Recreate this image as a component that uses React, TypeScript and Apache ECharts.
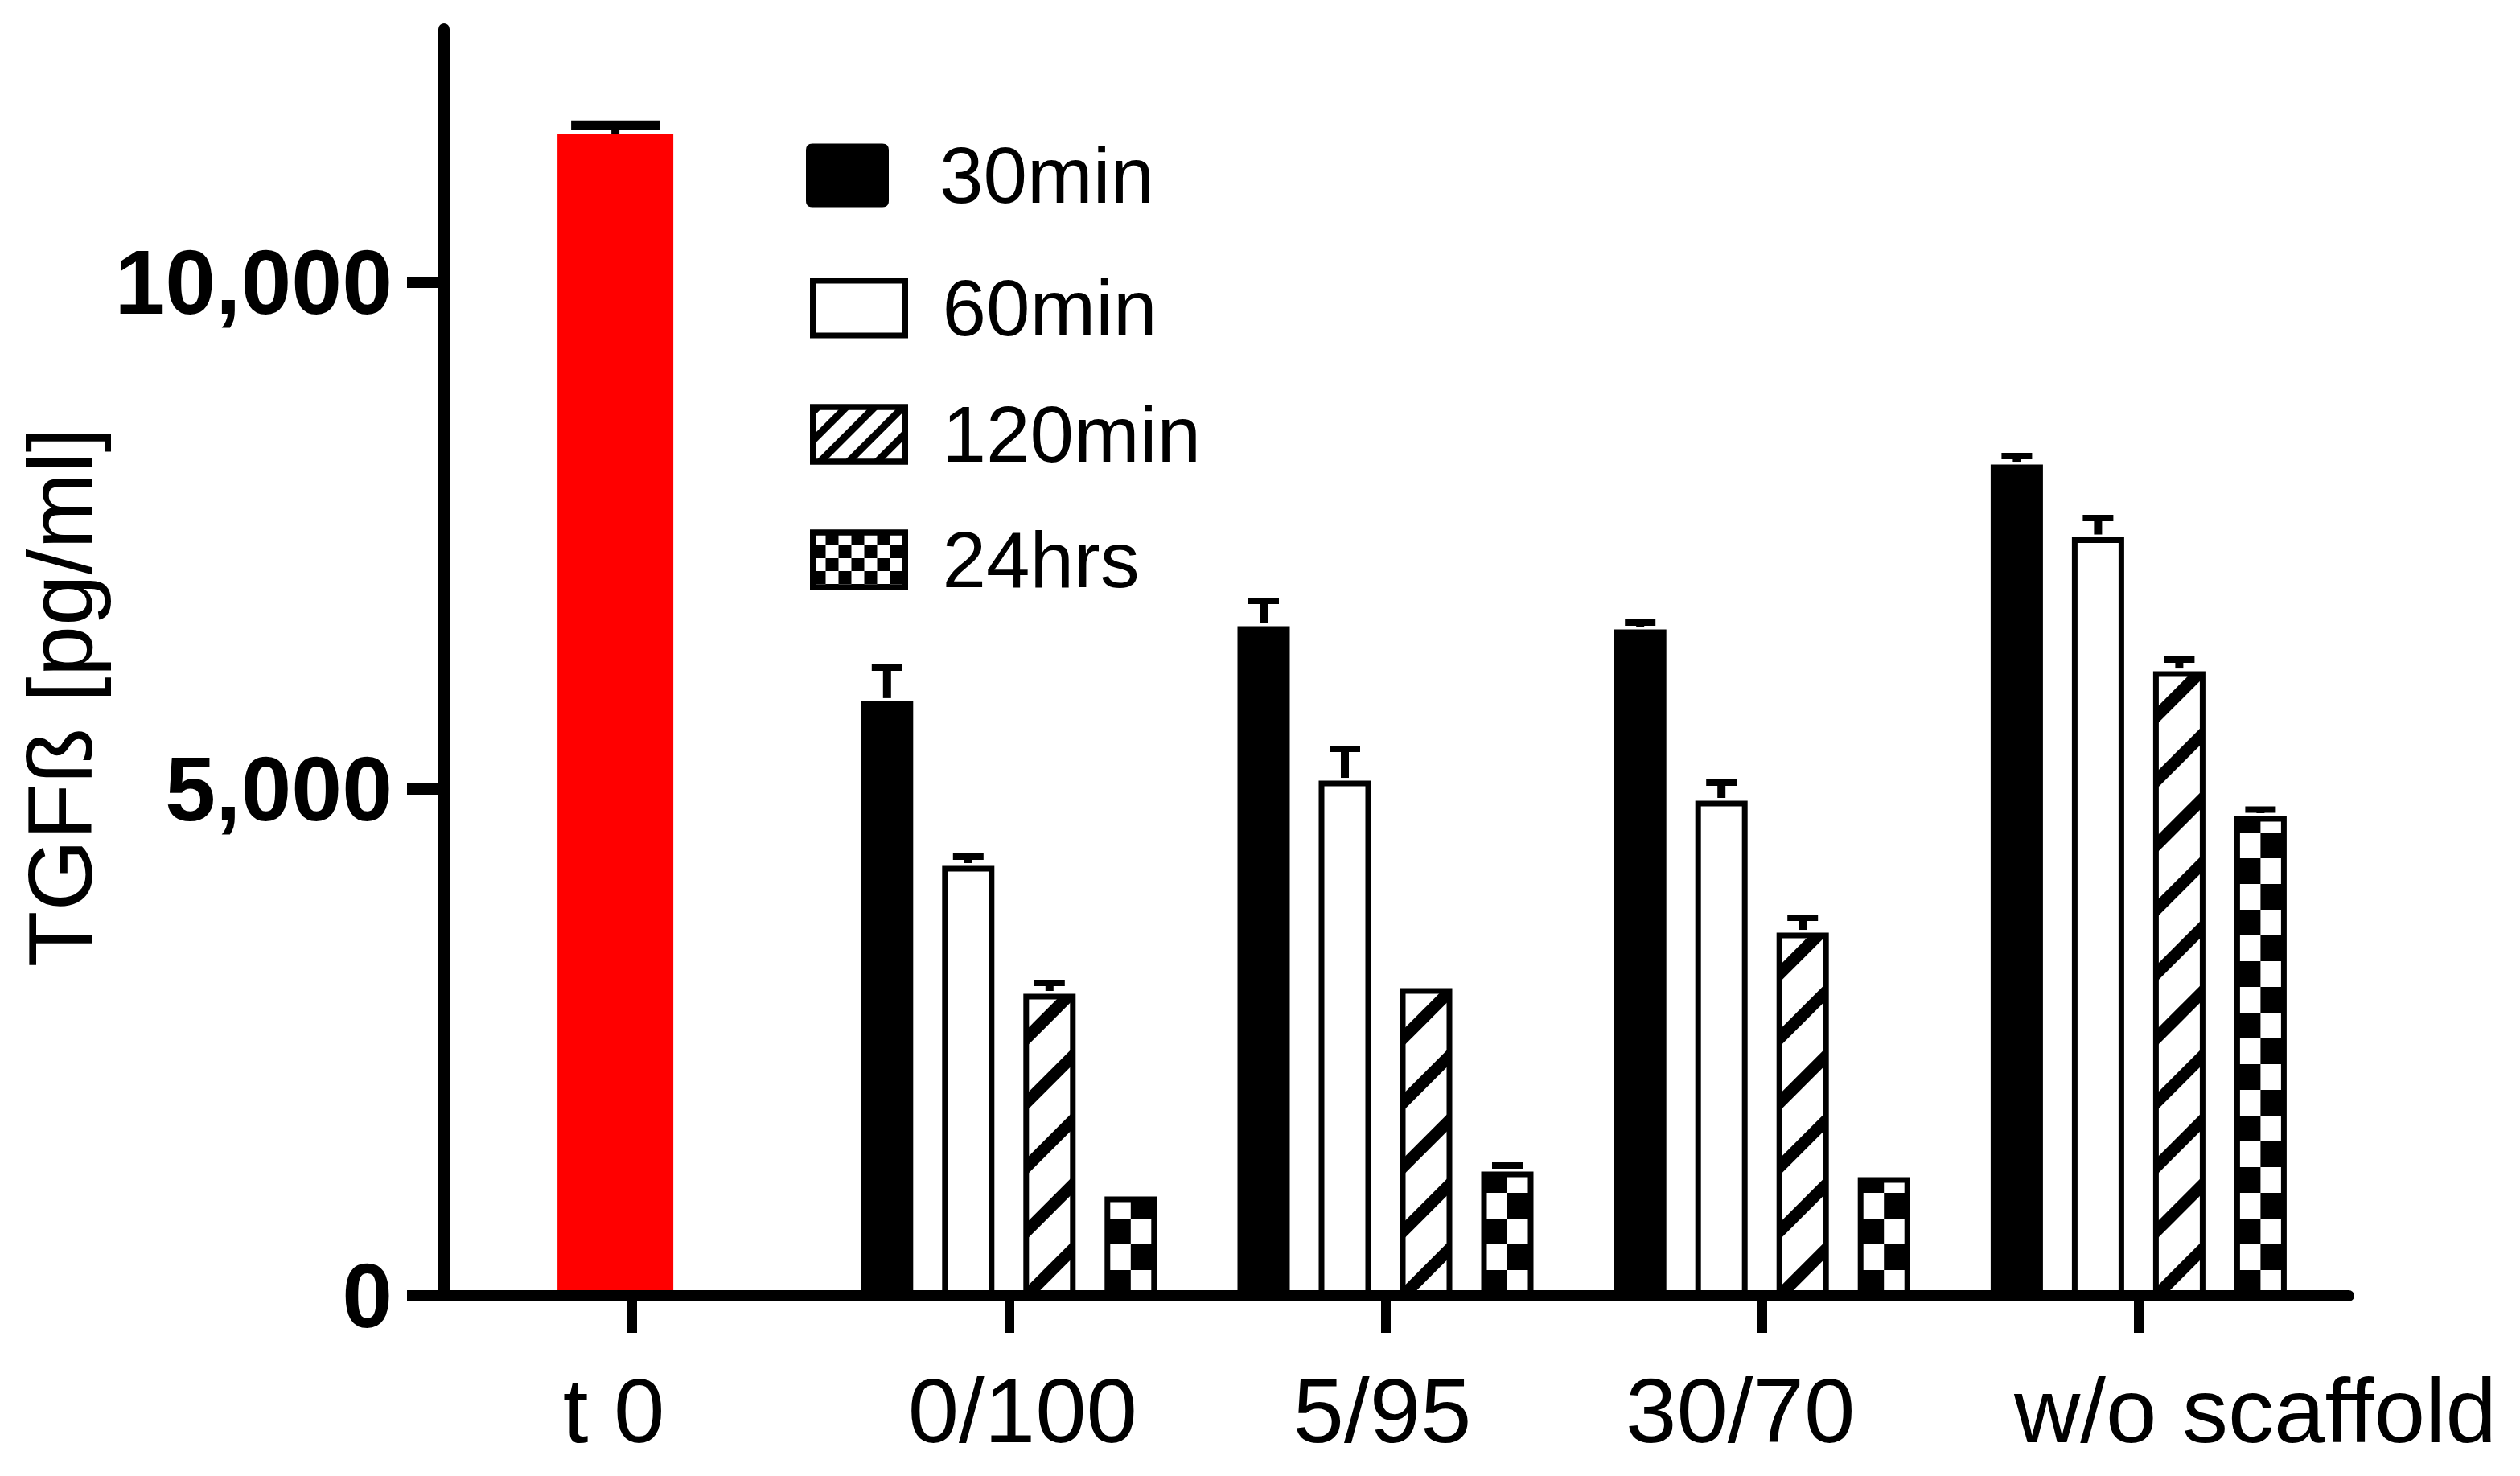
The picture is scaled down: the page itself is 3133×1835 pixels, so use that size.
import React, { useEffect, useRef } from "react";
import * as echarts from "echarts";

// ---------- data ----------
const CATEGORIES = ["t 0", "0/100", "5/95", "30/70", "w/o scaffold"];
const SERIES_NAMES = ["30min", "60min", "120min", "24hrs"];
const Y_TICKS = [0, 5000, 10000];
const Y_MAX = 12500;

const T0_VALUE = [11460, null, null, null, null];
const T0_ERR = [90, 0, 0, 0, 0];

const MIN30 = [null, 5870, 6607, 6575, 8202];
const ERR30 = [0, 328, 250, 68, 84];
const MIN60 = [null, 4242, 5083, 4885, 7484];
const ERR60 = [0, 91, 314, 178, 191];
const MIN120 = [null, 2980, 3035, 3583, 6162];
const ERR120 = [0, 107, 0, 147, 116];
const HRS24 = [null, 980, 1226, 1170, 4734];
const ERR24 = [0, 0, 60, 0, 64];

// ---------- style constants ----------
const FONT = '"Liberation Sans", Arial, Helvetica, sans-serif';
const BAR_W = 65;
const BORDER = 7;
const STEP = 101;
const GRID_TOP = 36;
const GRID_BOTTOM = 224;
const LABEL_SHIFT = [-23, 17, -4, -27, 145]; // horizontal shift of category labels

type Pt = [number, number];

function clipPoly(poly: Pt[], f: (p: Pt) => number): Pt[] {
  const out: Pt[] = [];
  const n = poly.length;
  for (let i = 0; i < n; i++) {
    const cur = poly[i];
    const prev = poly[(i + n - 1) % n];
    const fc = f(cur);
    const fp = f(prev);
    const inter = (): Pt => {
      const t = fp / (fp - fc);
      return [prev[0] + t * (cur[0] - prev[0]), prev[1] + t * (cur[1] - prev[1])];
    };
    if (fc >= 0) {
      if (fp < 0) out.push(inter());
      out.push(cur);
    } else if (fp >= 0) {
      out.push(inter());
    }
  }
  return out;
}

function innerRect(api: any, slot: number) {
  const c = api.value(0);
  const v = api.value(1);
  const p = api.coord([c, v]);
  const b = api.coord([c, 0]);
  const xc = p[0] + (slot - 1.5) * STEP;
  return {
    xa: xc - BAR_W / 2 + BORDER / 2,
    xb: xc + BAR_W / 2 - BORDER / 2,
    ya: p[1] + BORDER / 2,
    yb: b[1],
  };
}

const renderHatch = (params: any, api: any) => {
  const { xa, xb, ya, yb } = innerRect(api, 2);
  const P = 80;
  const HW = 10.6;
  const rect: Pt[] = [
    [xa, ya],
    [xb, ya],
    [xb, yb],
    [xa, yb],
  ];
  const children: any[] = [];
  const n = Math.ceil((yb - ya + (xb - xa)) / P) + 2;
  for (let k = -1; k <= n; k++) {
    const C = yb + xa - k * P;
    let poly = clipPoly(rect, (pt) => pt[0] + pt[1] - (C - HW));
    if (poly.length < 3) continue;
    poly = clipPoly(poly, (pt) => C + HW - (pt[0] + pt[1]));
    if (poly.length < 3) continue;
    children.push({ type: "polygon", shape: { points: poly }, style: { fill: "#000" } });
  }
  return { type: "group", children };
};

const renderChecker = (params: any, api: any) => {
  const { xa, xb, ya, yb } = innerRect(api, 3);
  const cw = (xb - xa) / 2;
  const ch = 32;
  const rows = Math.ceil((yb - ya) / ch);
  const children: any[] = [];
  for (let r = 0; r < rows; r++) {
    const yBot = yb - r * ch;
    const yTop = Math.max(ya, yBot - ch);
    for (let col = 0; col < 2; col++) {
      if ((r + col) % 2 === 0) {
        children.push({
          type: "rect",
          shape: { x: xa + col * cw, y: yTop, width: cw, height: yBot - yTop },
          style: { fill: "#000" },
        });
      }
    }
  }
  return { type: "group", children };
};

const makeErrorRender =
  (offset: number, capW: number, stemW: number, capT: number, border: number) =>
  (params: any, api: any) => {
    const c = api.value(0);
    const v = api.value(1);
    const e = api.value(2);
    const p = api.coord([c, v]);
    const q = api.coord([c, v + e]);
    const x = p[0] + offset;
    return {
      type: "group",
      children: [
        {
          type: "line",
          shape: { x1: x, y1: p[1] - border / 2, x2: x, y2: q[1] },
          style: { stroke: "#000", lineWidth: stemW },
        },
        {
          type: "line",
          shape: { x1: x - capW / 2, y1: q[1], x2: x + capW / 2, y2: q[1] },
          style: { stroke: "#000", lineWidth: capT },
        },
      ],
    };
  };

const errRows = (vals: (number | null)[], errs: number[]) =>
  vals
    .map((v, i) => (v == null || !(errs[i] > 0) ? null : [i, v, errs[i]]))
    .filter((d) => d !== null);

const valRows = (vals: (number | null)[]) =>
  vals.map((v, i) => (v == null ? null : [i, v])).filter((d) => d !== null);

function buildOption() {
  const barCommon = {
    type: "bar",
    xAxisIndex: 0,
    yAxisIndex: 0,
    barWidth: BAR_W,
    barGap: ((STEP - BAR_W) / BAR_W) * 100 + "%",
    z: 2,
  };
  const rich: any = {};
  CATEGORIES.forEach((_, i) => {
    const s = LABEL_SHIFT[i];
    rich["l" + i] = {
      fontSize: 114,
      fontFamily: FONT,
      color: "#000",
      padding: s >= 0 ? [0, 0, 0, 2 * s] : [0, -2 * s, 0, 0],
    };
  });

  const legendBase = {
    orient: "vertical",
    selectedMode: false,
    padding: 0,
    icon: "rect",
    itemWidth: 115,
    itemHeight: 68,
    textStyle: {
      fontSize: 98,
      fontFamily: FONT,
      color: "#000",
      padding: [0, 0, 70, 41],
    },
  };

  return {
    animation: false,
    backgroundColor: "#fff",
    grid: [
      { left: 552, top: GRID_TOP, width: 2341, bottom: GRID_BOTTOM },
      { left: 531, top: GRID_TOP, width: 2341, bottom: GRID_BOTTOM },
      { left: 549, top: GRID_TOP, right: 213, bottom: GRID_BOTTOM },
    ],
    legend: [
      {
        ...legendBase,
        data: [SERIES_NAMES[0]],
        left: 1002,
        top: 169,
        icon: "path://M8,0H95Q103,0,103,8V71Q103,79,95,79H8Q0,79,0,71V8Q0,0,8,0Z",
        itemWidth: 103,
        itemHeight: 79,
        itemStyle: { color: "#000", borderWidth: 0 },
        textStyle: { ...legendBase.textStyle, padding: [0, 0, 70, 58] },
      },
      {
        ...legendBase,
        data: [SERIES_NAMES[1]],
        left: 1007,
        top: 334,
        itemStyle: { color: "#fff", borderColor: "#000", borderWidth: 7 },
      },
      {
        ...legendBase,
        data: [SERIES_NAMES[2]],
        left: 1007,
        top: 491,
        itemStyle: {
          color: "#fff",
          borderColor: "#000",
          borderWidth: 7,
          decal: {
            symbol: "rect",
            symbolSize: 1,
            dashArrayX: [1, 0],
            dashArrayY: [9, 16],
            rotation: -Math.PI / 4,
            color: "#000",
          },
        },
      },
      {
        ...legendBase,
        data: [SERIES_NAMES[3]],
        left: 1007,
        top: 647,
        itemStyle: {
          color: "#fff",
          borderColor: "#000",
          borderWidth: 7,
          decal: {
            symbol: "rect",
            symbolSize: 1,
            dashArrayX: [
              [16, 16],
              [0, 16, 16, 0],
            ],
            dashArrayY: [16, 0],
            rotation: 0,
            color: "#000",
          },
        },
      },
    ],
    xAxis: [
      {
        gridIndex: 0,
        type: "category",
        data: CATEGORIES,
        boundaryGap: true,
        axisLine: { show: false },
        axisTick: {
          show: true,
          alignWithLabel: true,
          length: 46,
          lineStyle: { color: "#000", width: 12 },
        },
        axisLabel: {
          margin: 85,
          fontSize: 114,
          fontFamily: FONT,
          color: "#000",
          interval: 0,
          formatter: (value: string, index: number) => `{l${index}|${value}}`,
          rich,
        },
        splitLine: { show: false },
      },
      { gridIndex: 1, type: "category", data: CATEGORIES, show: false },
      {
        gridIndex: 2,
        type: "value",
        min: 0,
        max: 1,
        z: 10,
        axisLine: { show: true, lineStyle: { color: "#000", width: 14 } },
        axisTick: { show: false },
        axisLabel: { show: false },
        splitLine: { show: false },
      },
    ],
    yAxis: [
      {
        gridIndex: 0,
        type: "value",
        min: 0,
        max: Y_MAX,
        interval: 5000,
        z: 10,
        name: "TGFß [pg/ml]",
        nameLocation: "middle",
        nameGap: 395,
        nameTextStyle: {
          fontSize: 114,
          fontFamily: FONT,
          color: "#000",
          padding: [0, 86, 0, 0],
        },
        axisLine: { show: true, lineStyle: { color: "#000", width: 14 } },
        axisTick: {
          show: true,
          length: 46,
          customValues: Y_TICKS,
          lineStyle: { color: "#000", width: 14 },
        },
        axisLabel: {
          margin: 64,
          fontSize: 113,
          fontWeight: "bold",
          fontFamily: FONT,
          color: "#000",
          customValues: Y_TICKS,
          formatter: (v: number) => v.toLocaleString("en-US"),
        },
        splitLine: { show: false },
      },
      { gridIndex: 1, type: "value", min: 0, max: Y_MAX, show: false },
      { gridIndex: 2, type: "value", min: 0, max: 1, show: false },
    ],
    series: [
      {
        ...barCommon,
        name: SERIES_NAMES[0],
        data: MIN30,
        itemStyle: { color: "#000", borderColor: "#000", borderWidth: BORDER },
      },
      {
        ...barCommon,
        name: SERIES_NAMES[1],
        data: MIN60,
        itemStyle: { color: "#fff", borderColor: "#000", borderWidth: BORDER },
      },
      {
        ...barCommon,
        name: SERIES_NAMES[2],
        data: MIN120,
        itemStyle: { color: "#fff", borderColor: "#000", borderWidth: BORDER },
      },
      {
        ...barCommon,
        name: SERIES_NAMES[3],
        data: HRS24,
        itemStyle: { color: "#fff", borderColor: "#000", borderWidth: BORDER },
      },
      {
        type: "bar",
        name: "t 0",
        xAxisIndex: 1,
        yAxisIndex: 1,
        barWidth: 144,
        data: T0_VALUE,
        itemStyle: { color: "#ff0000" },
      },
      {
        type: "custom",
        name: "hatch",
        xAxisIndex: 0,
        yAxisIndex: 0,
        z: 3,
        encode: { x: 0, y: 1 },
        data: valRows(MIN120),
        renderItem: renderHatch,
      },
      {
        type: "custom",
        name: "checker",
        xAxisIndex: 0,
        yAxisIndex: 0,
        z: 3,
        encode: { x: 0, y: 1 },
        data: valRows(HRS24),
        renderItem: renderChecker,
      },
      ...[
        [MIN30, ERR30],
        [MIN60, ERR60],
        [MIN120, ERR120],
        [HRS24, ERR24],
      ].map(([vals, errs], slot) => ({
        type: "custom",
        name: "err" + slot,
        xAxisIndex: 0,
        yAxisIndex: 0,
        z: 4,
        encode: { x: 0, y: 1 },
        data: errRows(vals as any, errs as any),
        renderItem: makeErrorRender((slot - 1.5) * STEP, 38, 10, 8, BORDER),
      })),
      {
        type: "custom",
        name: "errT0",
        xAxisIndex: 1,
        yAxisIndex: 1,
        z: 4,
        encode: { x: 0, y: 1 },
        data: errRows(T0_VALUE, T0_ERR),
        renderItem: makeErrorRender(0, 110, 10, 12, 0),
      },
    ],
  };
}

export default function App() {
  const ref = useRef<HTMLDivElement>(null);
  useEffect(() => {
    if (!ref.current) return;
    const chart = echarts.init(ref.current, undefined, { renderer: "svg" });
    chart.setOption(buildOption() as any);
    return () => chart.dispose();
  }, []);
  return (
    <div
      ref={ref}
      style={{ position: "absolute", left: 0, top: 0, width: 3133, height: 1835, background: "#fff" }}
    />
  );
}
